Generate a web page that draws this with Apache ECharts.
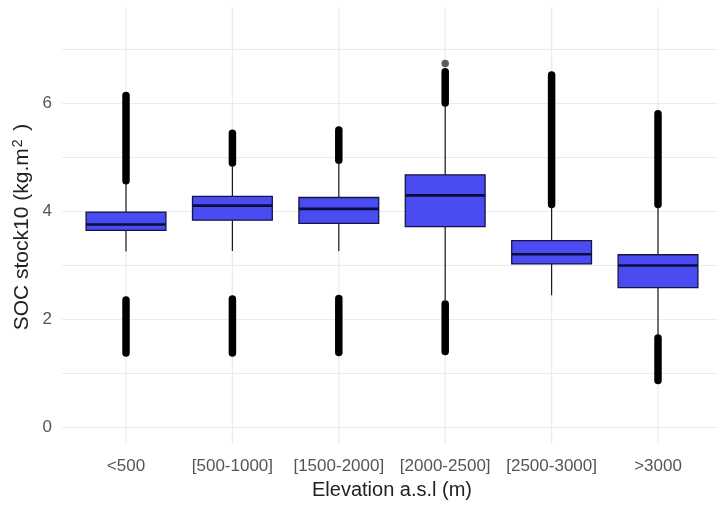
<!DOCTYPE html>
<html>
<head>
<meta charset="utf-8">
<script src="https://cdn.jsdelivr.net/npm/echarts@6/dist/echarts.min.js"></script>
<style>
  html, body { margin: 0; padding: 0; background: #ffffff; }
  #chart { width: 718px; height: 505px; }
</style>
</head>
<body>
<div id="chart"></div>
<script>
// Elevation classes on the x axis
const categories = ['<500', '[500-1000]', '[1500-2000]', '[2000-2500]', '[2500-3000]', '>3000'];

// Box statistics per class: lower whisker, Q1, median, Q3, upper whisker (kg.m-2)
const lowerWhisker = [3.25, 3.26, 3.26, 2.35, 2.44, 1.70];
const q1           = [3.64, 3.83, 3.77, 3.71, 3.02, 2.58];
const median       = [3.75, 4.10, 4.04, 4.29, 3.20, 2.99];
const q3           = [3.98, 4.27, 4.25, 4.67, 3.45, 3.19];
const upperWhisker = [4.50, 4.85, 4.90, 5.95, 4.08, 4.08];

// Dense runs of outliers, [class index, from, to]
const outlierRuns = [
  [0, 4.56, 6.14], [0, 1.37, 2.35],
  [1, 4.89, 5.44], [1, 1.37, 2.37],
  [2, 4.94, 5.50], [2, 1.38, 2.38],
  [3, 6.00, 6.58], [3, 1.40, 2.28],
  [4, 4.12, 6.52],
  [5, 4.12, 5.80], [5, 0.86, 1.65]
];
// Isolated outlier points, [class index, value]
const outlierPoints = [[3, 6.73]];

// Y axis ticks
const yMin = 0, yMax = 7, yStep = 1;
// Vertical extent of the panel in data units
const panelTop = 7.78, panelBottom = -0.30;

const BOX_FRACTION = 0.75;
const FILL = '#4b4bf2';
const EDGE = '#14144a';
const GRID_COLOR = '#ebebeb';
const FONT = 'Liberation Sans, Arial, sans-serif';

const boxData = categories.map((c, i) =>
  [i, lowerWhisker[i], q1[i], median[i], q3[i], upperWhisker[i]]);

const chart = echarts.init(document.getElementById('chart'), null, { renderer: 'canvas' });

chart.setOption({
  animation: false,
  backgroundColor: '#ffffff',
  textStyle: { fontFamily: FONT },
  grid: [
    { left: 72.8, right: 6.8, top: 49, bottom: 78 },
    { left: 62, right: 0, top: 49, bottom: 78 }
  ],
  xAxis: [
    {
      type: 'category', gridIndex: 0, data: categories,
      axisLine: { show: false }, axisTick: { show: false }, splitLine: { show: false },
      axisLabel: { interval: 0, hideOverlap: false, margin: 31, fontSize: 17, color: '#555555', fontFamily: FONT },
      name: 'Elevation a.s.l (m)', nameLocation: 'middle', nameGap: 53,
      nameTextStyle: { fontSize: 20, color: '#222222', fontFamily: FONT }
    },
    { type: 'value', gridIndex: 1, show: false, min: 0, max: 1 }
  ],
  yAxis: [
    { type: 'value', gridIndex: 0, min: yMin, max: yMax, show: false },
    {
      type: 'value', gridIndex: 1, min: yMin, max: yMax, interval: yStep,
      axisLine: { show: false }, axisTick: { show: false },
      splitLine: { show: true, lineStyle: { color: GRID_COLOR, width: 1.2 } },
      axisLabel: {
        margin: 10, fontSize: 17, color: '#555555', fontFamily: FONT,
        formatter: v => (v % 2 === 0 ? String(v) : '')
      }
    }
  ],
  graphic: [{
    type: 'text',
    x: 22, y: 227,
    rotation: Math.PI / 2,
    style: {
      text: 'SOC stock10 (kg.m{sup|2} )',
      fontSize: 21, fontFamily: FONT, fill: '#222222',
      align: 'center', verticalAlign: 'middle',
      rich: { sup: { fontSize: 14, verticalAlign: 'top', fontFamily: FONT, fill: '#222222', padding: [0, 3, 0, 1] } }
    }
  }],
  series: [
    {
      // vertical grid lines through each class centre
      type: 'custom', xAxisIndex: 0, yAxisIndex: 0, z: 0, silent: true,
      data: categories.map((c, i) => [i]),
      renderItem: (params, api) => {
        const a = api.coord([api.value(0), panelTop]);
        const b = api.coord([api.value(0), panelBottom]);
        return {
          type: 'line',
          shape: { x1: a[0], y1: a[1], x2: b[0], y2: b[1] },
          style: { stroke: GRID_COLOR, lineWidth: 1.2 }
        };
      }
    },
    {
      // outlier runs
      type: 'custom', xAxisIndex: 0, yAxisIndex: 0, z: 3,
      data: outlierRuns,
      encode: { x: 0, y: [1, 2] },
      renderItem: (params, api) => {
        const a = api.coord([api.value(0), api.value(1)]);
        const b = api.coord([api.value(0), api.value(2)]);
        return {
          type: 'line',
          shape: { x1: a[0], y1: a[1], x2: b[0], y2: b[1] },
          style: { stroke: '#000000', lineWidth: 7.5, lineCap: 'round' }
        };
      }
    },
    {
      type: 'scatter', xAxisIndex: 0, yAxisIndex: 0, z: 3,
      data: outlierPoints,
      symbol: 'circle', symbolSize: 7.5,
      itemStyle: { color: '#333333' }
    },
    {
      // boxes with whiskers and medians
      type: 'custom', xAxisIndex: 0, yAxisIndex: 0, z: 4,
      data: boxData,
      encode: { x: 0, y: [1, 2, 3, 4, 5] },
      renderItem: (params, api) => {
        const i = api.value(0);
        const band = api.size([1, 0])[0];
        const half = band * BOX_FRACTION / 2;
        const pLo = api.coord([i, api.value(1)]);
        const pQ1 = api.coord([i, api.value(2)]);
        const pMed = api.coord([i, api.value(3)]);
        const pQ3 = api.coord([i, api.value(4)]);
        const pHi = api.coord([i, api.value(5)]);
        const x = pMed[0];
        return {
          type: 'group',
          children: [
            { type: 'line', shape: { x1: x, y1: pQ3[1], x2: x, y2: pHi[1] },
              style: { stroke: '#1a1a1a', lineWidth: 1.2 } },
            { type: 'line', shape: { x1: x, y1: pQ1[1], x2: x, y2: pLo[1] },
              style: { stroke: '#1a1a1a', lineWidth: 1.2 } },
            { type: 'rect',
              shape: { x: x - half, y: pQ3[1], width: half * 2, height: pQ1[1] - pQ3[1] },
              style: { fill: FILL, stroke: EDGE, lineWidth: 1.3 } },
            { type: 'line', shape: { x1: x - half, y1: pMed[1], x2: x + half, y2: pMed[1] },
              style: { stroke: '#0c0c3c', lineWidth: 2.6 } }
          ]
        };
      }
    }
  ]
});
</script>
</body>
</html>
